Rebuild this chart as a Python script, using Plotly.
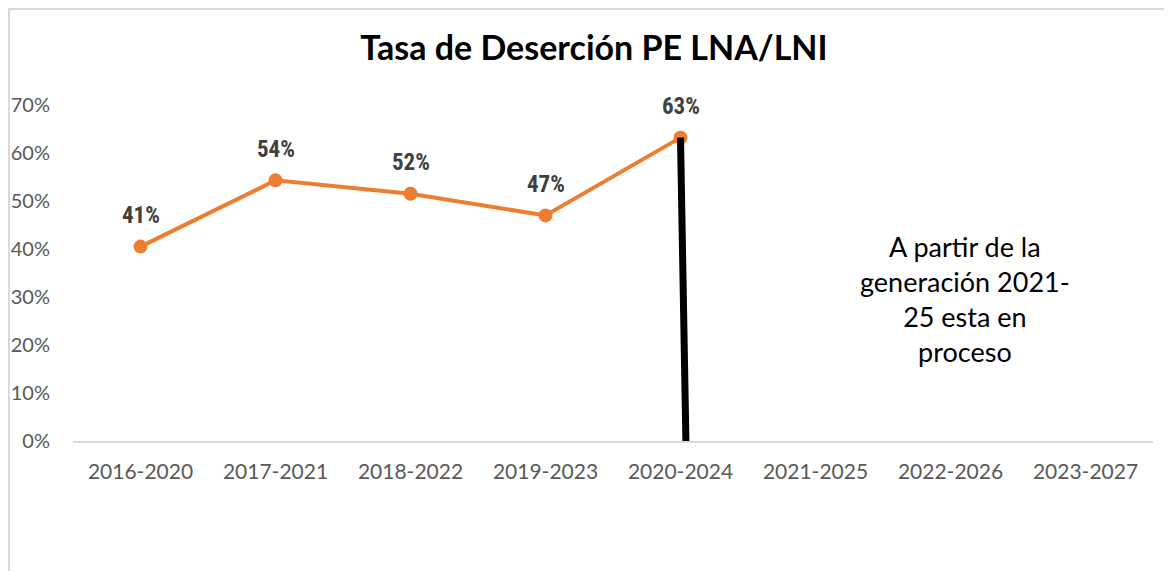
import plotly.graph_objects as go

categories = ["2016-2020", "2017-2021", "2018-2022", "2019-2023", "2020-2024",
              "2021-2025", "2022-2026", "2023-2027"]
values = [0.405, 0.543, 0.515, 0.47, 0.632]
labels = ["41%", "54%", "52%", "47%", "63%"]
ytick_vals = [0, 0.1, 0.2, 0.3, 0.4, 0.5, 0.6, 0.7]
ytick_text = ["0%", "10%", "20%", "30%", "40%", "50%", "60%", "70%"]
note = "A partir de la<br>generación 2021-<br>25 esta en<br>proceso"

FONT = "Lato, Calibri, Open Sans, sans-serif"
LABEL_FONT = "Liberation Sans Narrow, Arial Narrow, Roboto Condensed, Arial"

fig = go.Figure()
fig.add_trace(go.Scatter(
    x=categories[:len(values)], y=values,
    mode="lines+markers",
    line=dict(color="#ED7D31", width=4),
    marker=dict(color="#ED7D31", size=14),
    cliponaxis=False, showlegend=False, hoverinfo="skip",
))

for c, v, t in zip(categories, values, labels):
    fig.add_annotation(x=c, y=v, xref="x", yref="y", text=f"<b>{t}</b>", showarrow=False,
                       yshift=31, font=dict(family=LABEL_FONT, size=23, color="#404040"))

# black vertical marker line from last data point down to baseline
last_i = len(values) - 1
fig.add_shape(type="line", xref="x", yref="y",
              x0=last_i, y0=values[-1], x1=last_i + 0.04, y1=0,
              line=dict(color="black", width=7))

fig.add_annotation(x=6.107, y=0.296, xref="x", yref="y", text=note, showarrow=False,
                   font=dict(family=FONT, size=27, color="black"), align="center")

# outer border
fig.add_shape(type="rect", xref="paper", yref="paper",
              x0=-0.0593, x1=1.1, y0=-0.5, y1=1.2857,
              line=dict(color="#D9D9D9", width=2))

fig.update_layout(
    width=1172, height=571,
    margin=dict(l=65, r=27, t=97, b=138),
    paper_bgcolor="white", plot_bgcolor="white",
    title=dict(text="<b>Tasa de Deserción PE LNA/LNI</b>", x=0.5, xref="container", xanchor="center",
               y=0.93, yanchor="middle",
               font=dict(family=FONT, size=34, color="black")),
    xaxis=dict(type="category", categoryorder="array", categoryarray=categories,
               range=[-0.5, len(categories) - 0.5], automargin=False,
               tickmode="array", tickvals=categories, ticktext=categories,
               showgrid=False, showline=True, linecolor="#D9D9D9", linewidth=2,
               ticks="", tickfont=dict(family=FONT, size=21, color="#595959"), ticklabelstandoff=11),
    yaxis=dict(range=[0, 0.7], tickmode="array", tickvals=ytick_vals, ticktext=ytick_text,
               showgrid=False, zeroline=False, showline=False, ticks="", automargin=False,
               tickfont=dict(family=FONT, size=20, color="#595959"), ticklabelstandoff=22),
)

fig.write_html("out.html")
